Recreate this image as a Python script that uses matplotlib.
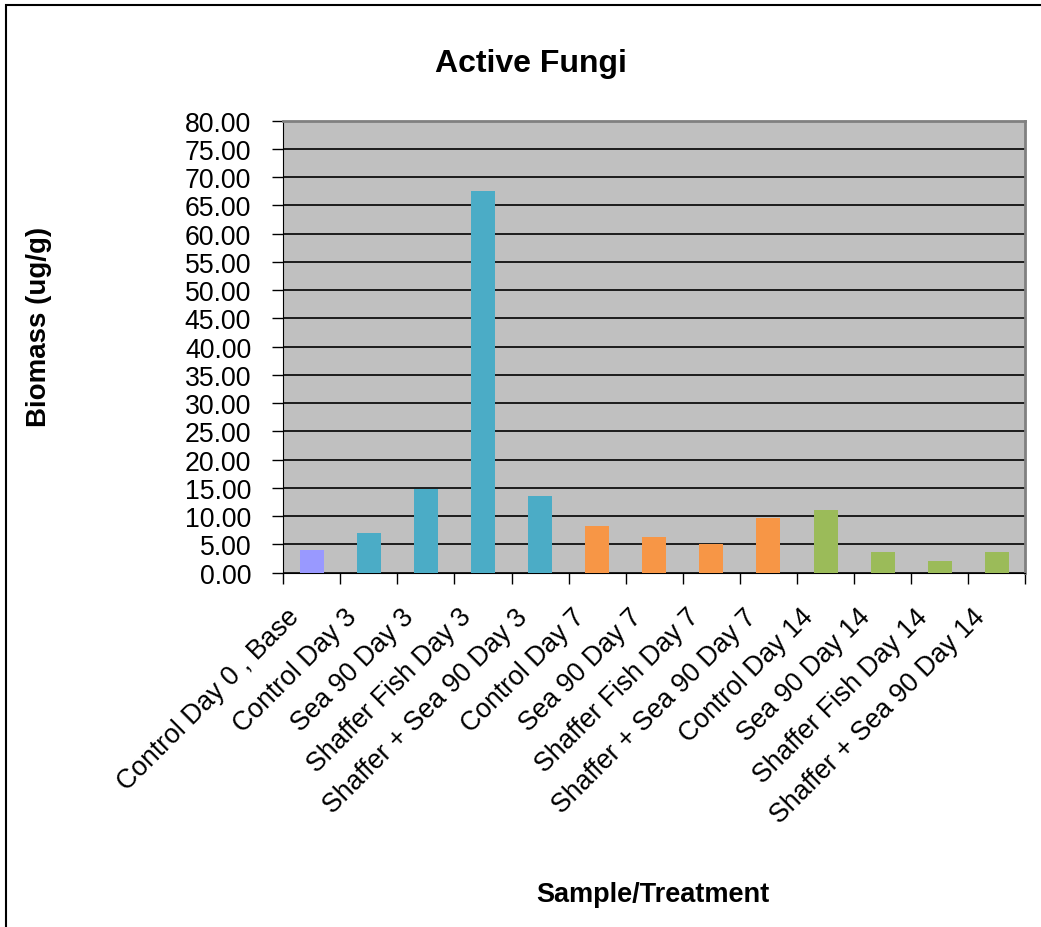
import matplotlib.pyplot as plt
import matplotlib.transforms as mtransforms
import numpy as np

plt.rcParams['font.family'] = ['Liberation Sans', 'DejaVu Sans']

# categories and values
samples = ['Control Day 0 , Base', 'Control Day 3', 'Sea 90 Day 3', 'Shaffer Fish Day 3',
           'Shaffer + Sea 90 Day 3', 'Control Day 7', 'Sea 90 Day 7', 'Shaffer Fish Day 7',
           'Shaffer + Sea 90 Day 7', 'Control Day 14', 'Sea 90 Day 14', 'Shaffer Fish Day 14',
           'Shaffer + Sea 90 Day 14']
biomass = [4.0, 7.0, 14.8, 67.5, 13.5, 8.2, 6.3, 5.0, 9.65, 11.05, 3.65, 2.05, 3.65]
colors = ['#9999FF'] + ['#4BACC6'] * 4 + ['#F79646'] * 4 + ['#9BBB59'] * 4

fig = plt.figure(figsize=(10.41, 9.28), dpi=100)
ax = fig.add_axes([0.272, 0.382, 0.713, 0.487])

x = np.arange(len(samples))
ax.bar(x, biomass, width=0.42, color=colors, zorder=3)

ax.set_facecolor('#C0C0C0')
ax.set_xlim(-0.5, len(samples) - 0.5)
ax.set_ylim(0, 80)
ax.set_yticks(np.arange(0, 81, 5))
ax.set_yticklabels(['%.2f' % v for v in np.arange(0, 81, 5)], fontsize=19.2)
ax.yaxis.grid(True, color='black', linewidth=1.2, zorder=1)

ax.set_xticks(x)
ax.set_xticklabels(samples, rotation=45, ha='right', va='center', rotation_mode='anchor',
                   fontsize=19.2)
ax.tick_params(axis='x', length=0, pad=0)
# shift labels down-left so they end just left of each bar
offset = mtransforms.ScaledTranslation(-0.16, -0.40, fig.dpi_scale_trans)
for lab in ax.get_xticklabels():
    lab.set_transform(lab.get_transform() + offset)
ax.set_xticks(np.arange(-0.5, len(samples)), minor=True)
ax.tick_params(axis='x', which='minor', length=8, width=1, color='black')
ax.tick_params(axis='y', length=8, width=1, pad=15)

for s in ['top', 'right']:
    ax.spines[s].set_color('#808080')
    ax.spines[s].set_linewidth(2)
ax.spines['left'].set_color('black')
ax.spines['bottom'].set_color('black')

fig.text(0.510, 0.931, 'Active Fungi', ha='center', va='center', fontsize=23, fontweight='bold')
fig.text(0.037, 0.648, 'Biomass (ug/g)', ha='center', va='center', rotation=90,
         fontsize=20, fontweight='bold')
fig.text(0.627, 0.036, 'Sample/Treatment', ha='center', va='center', fontsize=19.5,
         fontweight='bold')

border = plt.Rectangle((0.006, -0.1), 1.1, 1.094, transform=fig.transFigure,
                       fill=False, edgecolor='black', linewidth=1.5)
fig.patches.append(border)

fig.savefig('out.png', dpi=100)
